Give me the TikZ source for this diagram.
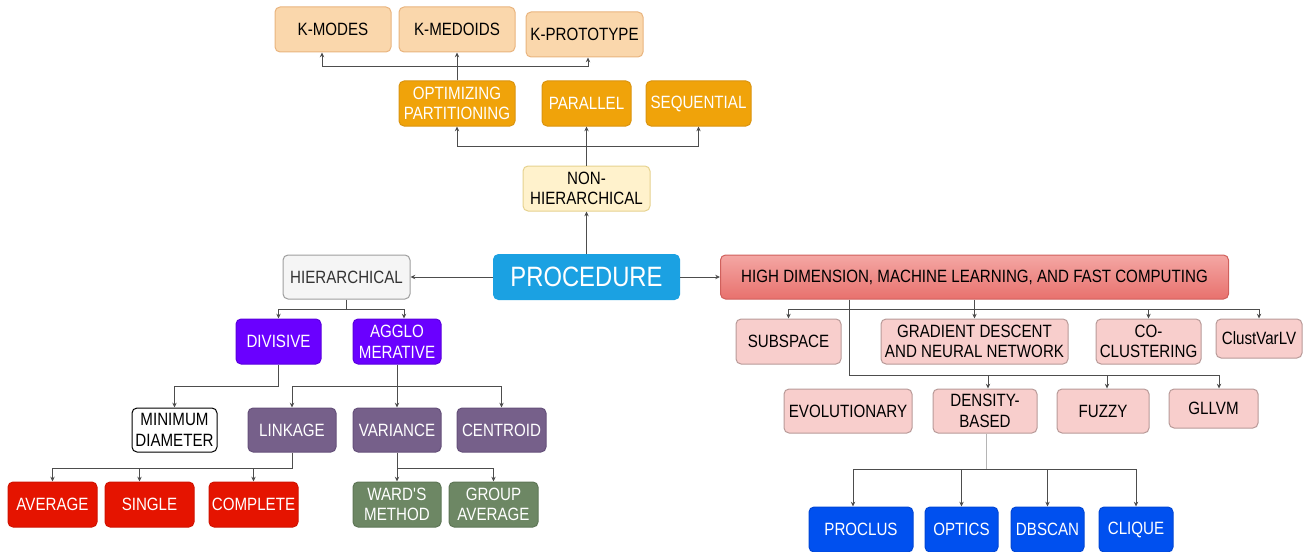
\documentclass[tikz,border=0pt]{standalone}
\usepackage{fontspec}
\setmainfont[FakeStretch=0.85]{Liberation Sans}
\usetikzlibrary{arrows.meta}
\newcommand{\pxsize}{0.5pt}

\definecolor{peachfill}{HTML}{FAD7AC}
\definecolor{peachline}{HTML}{E9B47E}
\definecolor{amberfill}{HTML}{F0A30A}
\definecolor{amberline}{HTML}{DA9410}
\definecolor{creamfill}{HTML}{FFF2CC}
\definecolor{creamline}{HTML}{E6D28F}
\definecolor{procfill}{HTML}{1BA1E2}
\definecolor{greyfill}{HTML}{F5F5F5}
\definecolor{greyline}{HTML}{9E9E9E}
\definecolor{greytext}{HTML}{333333}
\definecolor{violetfill}{HTML}{6A00FF}
\definecolor{violetline}{HTML}{5A00DD}
\definecolor{mauvefill}{HTML}{76608A}
\definecolor{mauveline}{HTML}{65507A}
\definecolor{redfill}{HTML}{E51400}
\definecolor{redline}{HTML}{D01200}
\definecolor{greenfill}{HTML}{6D8764}
\definecolor{greenline}{HTML}{5E7656}
\definecolor{pinkfill}{HTML}{F8CECC}
\definecolor{pinkline}{HTML}{B89A98}
\definecolor{pinktop}{HTML}{F4A7A4}
\definecolor{pinkbottom}{HTML}{E8716D}
\definecolor{pinkdark}{HTML}{D0605C}
\definecolor{bluefill}{HTML}{0050EF}
\definecolor{blueline}{HTML}{0046D5}
\definecolor{linkgrey}{HTML}{4D4D4D}
\definecolor{lightgrey}{HTML}{B5B5B5}

\begin{document}
\begin{tikzpicture}
\useasboundingbox (0,0) rectangle (1304*\pxsize,-551*\pxsize);
\tikzstyle{box}=[draw,
			rounded corners=2.5pt,
			line width=0.5pt,
			align=center,
			inner sep=1pt,
			minimum height=22.5pt,
			font=\fontsize{8.9}{10.3}\selectfont
			]
\tikzstyle{peach}=[box, fill=peachfill, draw=peachline]
\tikzstyle{amber}=[box, fill=amberfill, draw=amberline, text=white]
\tikzstyle{cream}=[box, fill=creamfill, draw=creamline]
\tikzstyle{grey}=[box, fill=greyfill, draw=greyline, text=greytext]
\tikzstyle{violet}=[box, fill=violetfill, draw=violetline, text=white]
\tikzstyle{plain}=[box, fill=white, draw=black]
\tikzstyle{mauve}=[box, fill=mauvefill, draw=mauveline, text=white]
\tikzstyle{redbox}=[box, fill=redfill, draw=redline, text=white]
\tikzstyle{greenbox}=[box, fill=greenfill, draw=greenline, text=white]
\tikzstyle{pink}=[box, fill=pinkfill, draw=pinkline]
\tikzstyle{bluebox}=[box, fill=bluefill, draw=blueline, text=white]
\tikzstyle{link}=[linkgrey, line width=0.5pt, -{Stealth[length=2.4pt,width=2.2pt]}]
\tikzstyle{lightlink}=[lightgrey, line width=0.5pt]

% non-hierarchical branch
\node[peach, minimum width=116*\pxsize] (kmodes) at (333*\pxsize,-29.5*\pxsize) {K-MODES};
\node[peach, minimum width=116*\pxsize] (kmedoids) at (457*\pxsize,-29.5*\pxsize) {K-MEDOIDS};
\node[peach, minimum width=117*\pxsize] (kproto) at (584.5*\pxsize,-34.5*\pxsize) {K-PROTOTYPE};
\node[amber, minimum width=116*\pxsize] (optim) at (457*\pxsize,-103.5*\pxsize) {OPTIMIZING\\PARTITIONING};
\node[amber, minimum width=89*\pxsize] (parallel) at (586.5*\pxsize,-103.5*\pxsize) {PARALLEL};
\node[amber, minimum width=105*\pxsize] (sequential) at (698.5*\pxsize,-103.5*\pxsize) {SEQUENTIAL};
\node[cream, minimum width=127*\pxsize] (nonhier) at (586.5*\pxsize,-188.5*\pxsize) {NON-\\HIERARCHICAL};

% root
\node[box, fill=procfill, draw=procfill, text=white, minimum width=186*\pxsize,
      font=\fontsize{14}{16}\selectfont] (proc) at (586.5*\pxsize,-277*\pxsize) {PROCEDURE};

% hierarchical branch
\node[grey, minimum width=127*\pxsize, minimum height=22pt] (hier) at (346.5*\pxsize,-277*\pxsize) {HIERARCHICAL};
\node[violet, minimum width=85*\pxsize] (divisive) at (278.5*\pxsize,-341.5*\pxsize) {DIVISIVE};
\node[violet, minimum width=88*\pxsize] (agglo) at (397*\pxsize,-341.5*\pxsize) {AGGLO\\MERATIVE};
\node[plain, minimum width=85*\pxsize, minimum height=22pt] (mindiam) at (174.5*\pxsize,-430*\pxsize) {MINIMUM\\DIAMETER};
\node[mauve, minimum width=88*\pxsize, minimum height=22pt] (linkage) at (292*\pxsize,-430*\pxsize) {LINKAGE};
\node[mauve, minimum width=88*\pxsize, minimum height=22pt] (variance) at (397*\pxsize,-430*\pxsize) {VARIANCE};
\node[mauve, minimum width=89*\pxsize, minimum height=22pt] (centroid) at (501.5*\pxsize,-430*\pxsize) {CENTROID};
\node[redbox, minimum width=89*\pxsize] (average) at (52.5*\pxsize,-504.5*\pxsize) {AVERAGE};
\node[redbox, minimum width=89*\pxsize] (single) at (149.5*\pxsize,-504.5*\pxsize) {SINGLE};
\node[redbox, minimum width=89*\pxsize] (complete) at (253.5*\pxsize,-504.5*\pxsize) {COMPLETE};
\node[greenbox, minimum width=88*\pxsize] (wards) at (397*\pxsize,-504.5*\pxsize) {WARD\textquotesingle S\\METHOD};
\node[greenbox, minimum width=89*\pxsize] (groupavg) at (493.5*\pxsize,-504.5*\pxsize) {GROUP\\AVERAGE};

% high dimension branch
\node[box, top color=pinktop, bottom color=pinkbottom, draw=pinkdark, minimum width=508*\pxsize,
      minimum height=22pt] (highdim) at (974.5*\pxsize,-277*\pxsize) {HIGH DIMENSION, MACHINE LEARNING, AND FAST COMPUTING};
\node[pink, minimum width=105*\pxsize] (subspace) at (788.5*\pxsize,-341.5*\pxsize) {SUBSPACE};
\node[pink, minimum width=187*\pxsize] (gradient) at (974.5*\pxsize,-341.5*\pxsize) {GRADIENT DESCENT\\AND NEURAL NETWORK};
\node[pink, minimum width=105*\pxsize] (cocluster) at (1148.5*\pxsize,-341.5*\pxsize) {CO-\\CLUSTERING};
\node[pink, minimum width=86*\pxsize, minimum height=19.5pt] (clustvar) at (1259*\pxsize,-338.5*\pxsize) {ClustVarLV};
\node[pink, minimum width=128*\pxsize, minimum height=22pt] (evol) at (848*\pxsize,-411*\pxsize) {EVOLUTIONARY};
\node[pink, minimum width=104*\pxsize, minimum height=22pt] (density) at (985*\pxsize,-411*\pxsize) {DENSITY-\\BASED};
\node[pink, minimum width=92*\pxsize, minimum height=22pt] (fuzzy) at (1103*\pxsize,-411*\pxsize) {FUZZY};
\node[pink, minimum width=89*\pxsize, minimum height=19.5pt] (gllvm) at (1213.5*\pxsize,-408.5*\pxsize) {GLLVM};
\node[bluebox, minimum width=104*\pxsize] (proclus) at (861*\pxsize,-529.5*\pxsize) {PROCLUS};
\node[bluebox, minimum width=73*\pxsize] (optics) at (961.5*\pxsize,-529.5*\pxsize) {OPTICS};
\node[bluebox, minimum width=73*\pxsize] (dbscan) at (1047.5*\pxsize,-529.5*\pxsize) {DBSCAN};
\node[bluebox, minimum width=74*\pxsize] (clique) at (1136*\pxsize,-529.5*\pxsize) {CLIQUE};

% connectors, upper part
\draw[link] (optim.north) -- (kmedoids.south);
\coordinate (topbus) at (457*\pxsize,-67*\pxsize);
\draw[link] (topbus) -| ([xshift=-11*\pxsize]kmodes.south);
\draw[link] (topbus) -| ([xshift=3.5*\pxsize]kproto.south);
\draw[link] (nonhier.north) -- (parallel.south);
\coordinate (midbus) at (586.5*\pxsize,-146*\pxsize);
\draw[link] (midbus) -| (optim.south);
\draw[link] (midbus) -| (sequential.south);
\draw[link] (proc.north) -- (nonhier.south);
\draw[link] (proc.west) -- (hier.east);
\draw[link] (proc.east) -- (highdim.west);

% connectors, hierarchical part
\coordinate (hierbus) at (346.5*\pxsize,-309*\pxsize);
\draw[linkgrey, line width=0.5pt] (hier.south) -- (hierbus);
\draw[link] (hierbus) -| (divisive.north);
\draw[link] (hierbus) -| ([xshift=7*\pxsize]agglo.north);
\draw[link] (divisive.south) -- ++(0,-22*\pxsize) -| (mindiam.north);
\draw[link] (agglo.south) -- (variance.north);
\coordinate (agglobus) at (397*\pxsize,-386*\pxsize);
\draw[link] (agglobus) -| (linkage.north);
\draw[link] (agglobus) -| (centroid.north);
\draw[link] (linkage.south) -- ++(0,-16*\pxsize) -| (average.north);
\coordinate (linkbus) at (292*\pxsize,-468*\pxsize);
\draw[link] (linkbus) -| ([xshift=-10*\pxsize]single.north);
\draw[link] (linkbus) -| (complete.north);
\draw[link] (variance.south) -- (wards.north);
\coordinate (varbus) at (397*\pxsize,-468*\pxsize);
\draw[link] (varbus) -| (groupavg.north);

% connectors, high dimension part
\draw[link] (highdim.south) -- (gradient.north);
\coordinate (highbus) at (974.5*\pxsize,-309*\pxsize);
\draw[link] (highbus) -| (subspace.north);
\draw[link] (highbus) -| (cocluster.north);
\draw[link] (highbus) -| (clustvar.north);
\coordinate (lowbus) at (849*\pxsize,-375*\pxsize);
\draw[linkgrey, line width=0.5pt] (highdim.south -| lowbus) -- (lowbus);
\draw[link] (lowbus) -| ([xshift=3*\pxsize]density.north);
\draw[link] (lowbus) -| ([xshift=4*\pxsize]fuzzy.north);
\draw[link] (lowbus) -| ([xshift=5.5*\pxsize]gllvm.north);
\draw[lightlink] ([xshift=1*\pxsize]density.south) -- ++(0,-36*\pxsize) coordinate (densbus);
\draw[link] (densbus) -| ([xshift=-8*\pxsize]proclus.north);
\draw[link] (densbus) -| (optics.north);
\draw[link] (densbus) -| (dbscan.north);
\draw[link] (densbus) -| (clique.north);

\end{tikzpicture}
\end{document}
